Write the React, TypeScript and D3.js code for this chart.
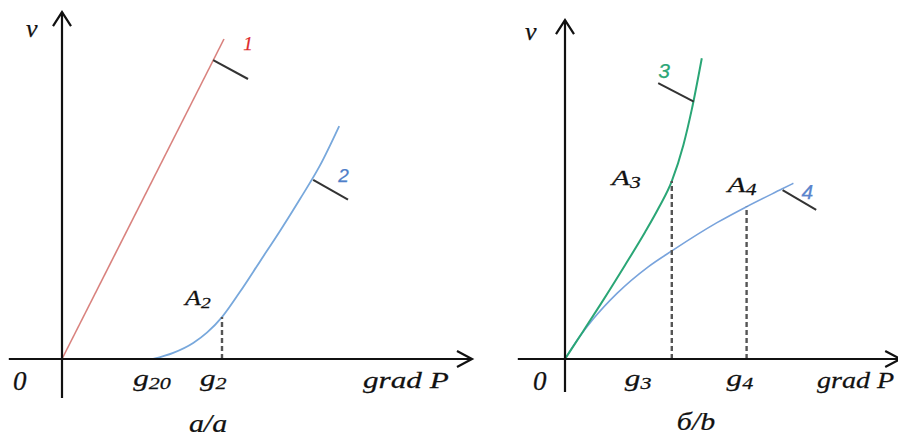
import React from 'react';
import * as d3 from 'd3';

// panel a: curve values in schematic units (grad P, v)
const line1 = [[0, 0], [4.05, 10.0]];
const curve2 = [[2.28, 0], [2.78, 0.19], [3.28, 0.5], [3.63, 0.83], [4.0, 1.31], [4.45, 2.1], [4.95, 3.05], [5.45, 4.0], [5.95, 5.0], [6.45, 6.05], [6.93, 7.28]];
const leader1 = [[3.78, 9.34], [4.65, 8.75]];
const leader2 = [[6.28, 5.6], [7.15, 4.98]];

// panel b
const curve3 = [[0, 0], [0.45, 0.86], [0.9, 1.73], [1.5, 2.93], [2.0, 3.96], [2.35, 4.74], [2.67, 5.56], [2.96, 6.69], [3.17, 7.8], [3.42, 9.4]];
const curve4 = [[0, 0], [0.35, 0.67], [0.7, 1.24], [1.3, 2.05], [2.08, 2.88], [2.71, 3.41], [3.8, 4.26], [4.54, 4.76], [5.42, 5.31], [5.71, 5.49]];
const leader3 = [[2.33, 8.62], [3.22, 8.04]];
const leader4 = [[5.44, 5.28], [6.28, 4.66]];

// points A and their g-values on the axis
const pointsA = [{ name: 'A', sub: '2', x: 4.0, y: 1.31 }];
const pointsB = [
    { name: 'A', sub: '3', x: 2.67, y: 5.56 },
    { name: 'A', sub: '4', x: 4.54, y: 4.76 }
];
const ticksA = [{ sub: '20', x: 2.28 }, { sub: '2', x: 4.0 }];
const ticksB = [{ sub: '3', x: 2.67 }, { sub: '4', x: 4.54 }];

const serif = "'Liberation Serif', 'Times New Roman', serif";
const sans = "'Liberation Sans', Arial, sans-serif";

const makeScales = (x0) => ({
    x: d3.scaleLinear().domain([0, 10]).range([x0, x0 + 400]),
    y: d3.scaleLinear().domain([0, 10]).range([359, 39])
});

const Label = ({ x, y, text, sub, size = 24, subSize = 17, sx = 1.3, color = '#111', family = serif, anchor = 'start' }) => (
    <text
        transform={`translate(${x},${y}) scale(${sx},1)`}
        fontFamily={family}
        fontStyle="italic"
        fontSize={size}
        fill={color}
        stroke={color}
        strokeWidth={0.25}
        textAnchor={anchor}
    >
        {text}
        {sub && (
            <tspan fontSize={subSize} dy={3}>
                {sub}
            </tspan>
        )}
    </text>
);

function Axes({ s, xFrom, xTo, yFrom, yTo }) {
    const ox = s.x(0);
    const oy = s.y(0);
    const tipX = s.x(xTo);
    const tipY = s.y(yTo);
    return (
        <g stroke="#111" strokeWidth={2.2} fill="none">
            <line x1={s.x(xFrom)} y1={oy} x2={tipX} y2={oy} />
            <line x1={ox} y1={s.y(yFrom)} x2={ox} y2={tipY} />
            <polyline points={`${tipX - 15},${oy - 8} ${tipX},${oy} ${tipX - 15},${oy + 8}`} />
            <polyline points={`${ox - 9},${tipY + 14} ${ox},${tipY} ${ox + 9},${tipY + 14}`} />
        </g>
    );
}

export default function App() {
    const a = makeScales(62);
    const b = makeScales(565);
    const lineA = d3.line().x((d) => a.x(d[0])).y((d) => a.y(d[1])).curve(d3.curveMonotoneX);
    const lineB = d3.line().x((d) => b.x(d[0])).y((d) => b.y(d[1])).curve(d3.curveMonotoneX);

    return (
        <svg
            width={898}
            height={437}
            style={{ position: 'absolute', left: 0, top: 0, background: '#fff' }}
        >
            {/* panel a */}
            <path d={lineA(line1)} stroke="#d9827e" strokeWidth={1.6} fill="none" />
            <path d={lineA(curve2)} stroke="#78a8dc" strokeWidth={1.8} fill="none" />
            <path d={lineA(leader1)} stroke="#333" strokeWidth={2} />
            <path d={lineA(leader2)} stroke="#333" strokeWidth={2} />
            {pointsA.map((p) => (
                <line key={p.sub} x1={a.x(p.x)} x2={a.x(p.x)} y1={a.y(0)} y2={a.y(p.y)} stroke="#555" strokeWidth={2.4} strokeDasharray="5,3" />
            ))}
            <Axes s={a} xFrom={-1.33} xTo={10.25} yFrom={-1.22} yTo={10.84} />
            <Label x={26} y={37} text="v" size={26} sx={1} />
            <Label x={13} y={390} text="0" size={27} sx={1} />
            {ticksA.map((t) => (
                <Label key={t.sub} x={a.x(t.x) - (t.sub === '20' ? 20 : 22)} y={386} text="g" sub={t.sub} />
            ))}
            <Label x={363} y={388} text="grad P" />
            <Label x={a.x(pointsA[0].x) - 37} y={305} text="A" sub="2" size={20} subSize={15} />
            <Label x={a.x(leader1[0][0]) + 30} y={50} text="1" size={19} sx={1} color="#dd2a2a" />
            <Label x={a.x(leader2[0][0]) + 25} y={182} text="2" size={19} sx={1} color="#4f7fc9" family={sans} />
            <Label x={208} y={432} text="a/a" size={26} sx={1.15} anchor="middle" />

            {/* panel b */}
            <path d={lineB(curve4)} stroke="#78a3dc" strokeWidth={1.6} fill="none" />
            <path d={lineB(curve3)} stroke="#2aa676" strokeWidth={2} fill="none" />
            <path d={lineB(leader3)} stroke="#333" strokeWidth={2} />
            <path d={lineB(leader4)} stroke="#333" strokeWidth={2} />
            {pointsB.map((p) => (
                <line key={p.sub} x1={b.x(p.x)} x2={b.x(p.x)} y1={b.y(0)} y2={b.y(p.y)} stroke="#555" strokeWidth={2.4} strokeDasharray="5,3" />
            ))}
            <Axes s={b} xFrom={-1.18} xTo={8.38} yFrom={-1.03} yTo={10.59} />
            <Label x={525} y={40} text="v" size={26} sx={1} />
            <Label x={533} y={390} text="0" size={27} sx={1} />
            {ticksB.map((t) => (
                <Label key={t.sub} x={b.x(t.x) - (t.sub === '3' ? 47 : 20)} y={386} text="g" sub={t.sub} />
            ))}
            <Label x={817} y={388} text="grad P" sx={1.17} />
            <Label x={b.x(pointsB[0].x) - 60} y={185} text="A" sub="3" size={22} subSize={16} sx={1.35} />
            <Label x={b.x(pointsB[1].x) - 19} y={192} text="A" sub="4" size={22} subSize={16} sx={1.35} />
            <Label x={b.x(leader3[0][0])} y={78} text="3" size={21} sx={1} color="#2aa676" family={sans} />
            <Label x={b.x(leader4[0][0]) + 19} y={199} text="4" size={21} sx={1} color="#5a84cc" family={sans} />
            <Label x={696} y={430} text="б/b" size={26} sx={1.15} anchor="middle" />
        </svg>
    );
}
